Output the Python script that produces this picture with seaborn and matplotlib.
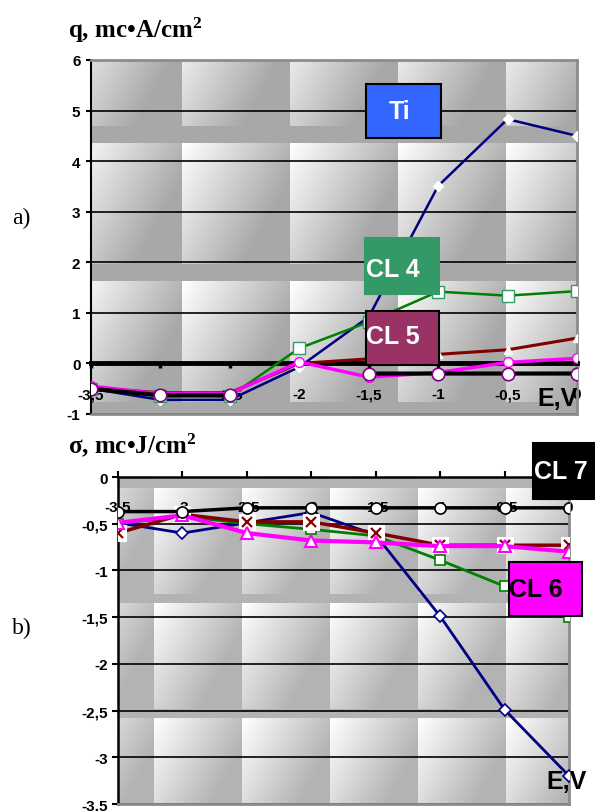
import numpy as np
import matplotlib
matplotlib.use('Agg')
import matplotlib.pyplot as plt
import seaborn as sns
from matplotlib.patches import Rectangle

# potential, V (same for both panels)
E = [-3.5, -3.0, -2.5, -2.0, -1.5, -1.0, -0.5, 0.0]
x_labels = ['-3,5', '-3', '-2,5', '-2', '-1,5', '-1', '-0,5', '0']

# a) q, mc*A/cm2
q_ti = [-0.5, -0.72, -0.72, -0.07, 0.92, 3.51, 4.83, 4.5]
q_cl4 = [-0.5, -0.65, -0.65, 0.3, 0.82, 1.42, 1.34, 1.43]
q_cl5 = [-0.48, -0.58, -0.58, 0.0, 0.09, 0.18, 0.27, 0.5]
q_cl6 = [-0.45, -0.6, -0.6, 0.03, -0.27, -0.18, 0.02, 0.1]
q_cl7 = [-0.5, -0.63, -0.63, np.nan, -0.2, -0.2, -0.2, -0.2]
q_ticks = [-1, 0, 1, 2, 3, 4, 5, 6]
q_labels = ['-1', '0', '1', '2', '3', '4', '5', '6']

# b) sigma, mc*J/cm2
s_ti = [-0.49, -0.6, -0.49, -0.38, -0.62, -1.49, -2.49, -3.2]
s_cl4 = [-0.5, -0.42, -0.5, -0.56, -0.63, -0.89, -1.17, -1.5]
s_cl5 = [-0.6, -0.4, -0.48, -0.48, -0.6, -0.73, -0.73, -0.73]
s_cl6 = [-0.49, -0.41, -0.6, -0.68, -0.7, -0.74, -0.74, -0.8]
s_cl7 = [-0.37, -0.37, -0.33, -0.33, -0.33, -0.33, -0.33, -0.33]
s_ticks = [-3.5, -3, -2.5, -2, -1.5, -1, -0.5, 0]
s_labels = ['-3,5', '-3', '-2,5', '-2', '-1,5', '-1', '-0,5', '0']

sns.set_style('ticks')
plt.rcParams['font.family'] = ['Liberation Sans', 'DejaVu Sans']
plt.rcParams['font.weight'] = 'bold'
plt.rcParams['text.color'] = 'black'
plt.rcParams['xtick.color'] = 'black'
plt.rcParams['ytick.color'] = 'black'
plt.rcParams['xtick.labelcolor'] = 'black'
plt.rcParams['ytick.labelcolor'] = 'black'
plt.rcParams['mathtext.fontset'] = 'custom'
plt.rcParams['mathtext.rm'] = 'Liberation Serif:bold'
plt.rcParams['mathtext.it'] = 'Liberation Serif:bold'
plt.rcParams['mathtext.default'] = 'rm'

W, H = 595, 812
fig = plt.figure(figsize=(W / 100, H / 100), dpi=100)
ax1 = fig.add_axes([91 / W, 1 - 415 / H, 486 / W, 354 / H])
ax2 = fig.add_axes([118 / W, 1 - 805 / H, 451 / W, 327 / H])


def texture(ax, ylim, tw, th, x0, y0, gap, dark):
    # Excel-like tiled picture fill of the plot area
    b = ax.get_position()
    px = np.arange(round(b.x0 * W), round(b.x1 * W)) + 0.5
    py = np.arange(round((1 - b.y1) * H), round((1 - b.y0) * H)) + 0.5
    U, V = np.meshgrid(((px - x0) % tw) / tw, ((py - y0) % th) / th)
    c = 1 - (1 - dark) * np.clip(0.85 * U + 0.6 * V, 0, 1)
    c[V > 1 - gap] = dark
    ax.imshow(c, cmap='gray', vmin=0, vmax=1, extent=(-3.5, 0, ylim[0], ylim[1]),
              aspect='auto', zorder=0, interpolation='bilinear')


def series(ax, y, color, lw, marker, ms, mfc, mec, mew=1.0, z=4):
    sns.lineplot(x=E, y=y, ax=ax, color=color, linewidth=lw, marker=marker,
                 markersize=ms, markerfacecolor=mfc, markeredgecolor=mec,
                 markeredgewidth=mew, zorder=z)


def box(ax, x, y, w, h, fc, ec, txt, tx, ty, tc):
    ax.add_patch(Rectangle((x, y), w, h, facecolor=fc, edgecolor=ec, linewidth=1.5,
                           zorder=8, clip_on=False))
    ax.text(tx, ty, txt, color=tc, fontsize=18, ha='center', va='center', zorder=9)


# ---------- a) ----------
texture(ax1, (-1, 6), 108, 138, 182, 144, 0.12, 0.66)
series(ax1, q_ti, '#000080', 1.8, 'D', 5, 'white', 'white')
series(ax1, q_cl4, '#008000', 1.8, 's', 8, 'white', '#339966')
series(ax1, q_cl5, '#800000', 2.2, '^', 6, 'white', 'white')
series(ax1, q_cl6, '#ff00ff', 2.5, 'o', 7, 'white', '#ff00ff')
ax1.plot(E, q_cl7, color='black', linewidth=3, marker='o', markersize=9,
         markerfacecolor='white', markeredgecolor='#800080', markeredgewidth=1.2, zorder=5)

ax1.set_xlim(-3.5, 0)
ax1.set_ylim(-1, 6)
ax1.set_xticks(E)
ax1.set_xticklabels(x_labels)
ax1.set_yticks(q_ticks)
ax1.set_yticklabels(q_labels)
ax1.set_xlabel('')
ax1.set_ylabel('')
ax1.set_axisbelow(True)
ax1.yaxis.grid(True, color='black', linewidth=1.2)
ax1.spines['bottom'].set_position(('data', 0))
ax1.spines['bottom'].set_linewidth(3.5)
ax1.spines['bottom'].set_color('black')
ax1.spines['left'].set_linewidth(1.5)
ax1.spines['left'].set_color('black')
for s in ['top', 'right']:
    ax1.spines[s].set_visible(True)
    ax1.spines[s].set_color('#8c8c8c')
    ax1.spines[s].set_linewidth(2)
ax1.axhline(-1, color='#8c8c8c', linewidth=2, clip_on=False, zorder=3)
ax1.tick_params(axis='x', direction='out', length=3.6, width=2.5, pad=13.5, labelsize=11)
ax1.tick_params(axis='y', direction='out', length=3.6, width=1.5, pad=4, labelsize=11)

box(ax1, -1.52, 4.46, 0.54, 1.06, '#3366ff', 'black', 'Ti', -1.28, 5.0, 'white')
box(ax1, -1.527, 1.37, 0.533, 1.11, '#339966', '#339966', 'CL 4', -1.325, 1.87, 'white')
box(ax1, -1.52, -0.03, 0.526, 1.07, '#993366', 'black', 'CL 5', -1.325, 0.55, 'white')
ax1.text(-0.14, -0.68, 'E,V', fontsize=18, ha='center', va='center', zorder=9)

# ---------- b) ----------
texture(ax2, (-3.5, 0), 88, 115, 154, 604, 0.08, 0.70)
series(ax2, s_ti, '#000080', 2, 'D', 6, 'white', '#000080', 1.2)
series(ax2, s_cl4, '#008000', 2, 's', 7, 'white', '#008000', 1.2)
sns.lineplot(x=E, y=s_cl5, ax=ax2, color='#800000', linewidth=2.5, marker='s',
             markersize=11, markerfacecolor='white', markeredgecolor='white', zorder=4)
sns.lineplot(x=E, y=s_cl5, ax=ax2, color='#800000', linewidth=0, marker='x',
             markersize=7, markeredgecolor='#800000', markeredgewidth=1.6, zorder=4.1)
series(ax2, s_cl6, '#ff00ff', 3, '^', 8, 'white', '#ff00ff', 1.5, 4.2)
series(ax2, s_cl7, 'black', 2.5, 'o', 8, 'white', 'black', 1.2, 4.3)

ax2.set_xlim(-3.5, 0)
ax2.set_ylim(-3.5, 0)
ax2.set_xticks(E)
ax2.set_xticklabels(x_labels)
ax2.set_yticks(s_ticks)
ax2.set_yticklabels(s_labels)
ax2.set_xlabel('')
ax2.set_ylabel('')
ax2.set_axisbelow(True)
ax2.yaxis.grid(True, color='black', linewidth=1.2)
ax2.xaxis.tick_top()
for s in ['top', 'left']:
    ax2.spines[s].set_visible(True)
    ax2.spines[s].set_color('black')
    ax2.spines[s].set_linewidth(1.8)
for s in ['bottom', 'right']:
    ax2.spines[s].set_visible(True)
    ax2.spines[s].set_color('#8c8c8c')
    ax2.spines[s].set_linewidth(2)
ax2.tick_params(axis='x', direction='out', length=4.5, width=1.5, pad=-31, labelsize=11)
ax2.tick_params(axis='y', direction='out', length=4.5, width=1.5, pad=3, labelsize=11)

box(ax2, -0.279, -0.235, 0.481, 0.6, 'black', 'black', 'CL 7', -0.062, 0.064, 'white')
box(ax2, -0.466, -1.488, 0.567, 0.578, '#ff00ff', 'black', 'CL 6', -0.256, -1.2, 'black')
ax2.text(-0.023, -3.25, 'E,V', fontsize=18, ha='center', va='center', zorder=9)

# titles and panel marks
fig.text(68 / W, 1 - 30 / H, r'q, mc•A/cm$^{2}$', family='Liberation Serif',
         fontweight='bold', fontsize=18, va='center')
fig.text(68 / W, 1 - 445 / H, r'σ, mc•J/cm$^{2}$', family='Liberation Serif',
         fontweight='bold', fontsize=18, va='center')
fig.text(12 / W, 1 - 218 / H, 'a)', family='Liberation Serif', fontweight='normal',
         fontsize=17, va='center')
fig.text(12 / W, 1 - 628 / H, 'b)', family='Liberation Serif', fontweight='normal',
         fontsize=17, va='center')

fig.savefig('out.png', dpi=100)
